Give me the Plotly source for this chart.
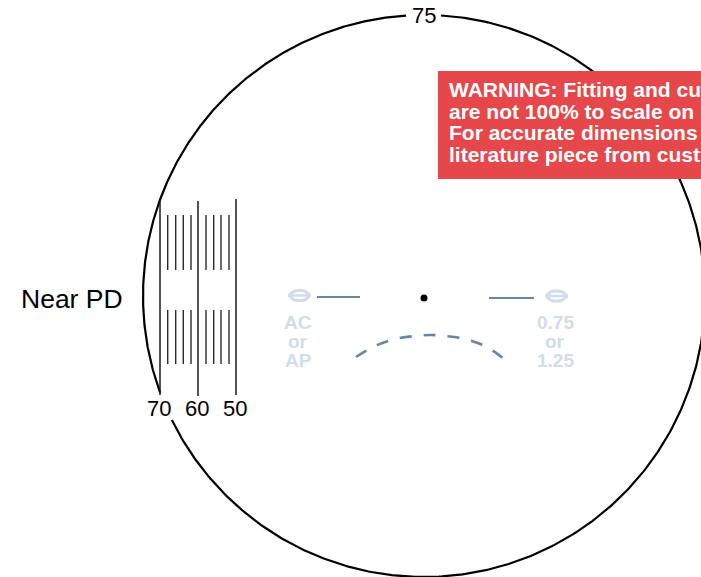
import numpy as np
import plotly.graph_objects as go

# Scale diagram values (chart units equal the reference picture's pixels)
CENTER = (424, 296)
RADIUS = 281
GAP_75 = (406, 441)
PD_LONG_X = [160, 198, 236]
PD_LONG_Y = [[200, 395], [201, 396], [199, 395]]
PD_LABELS = ["70", "60", "50"]
PD_LABEL_X = [159, 197, 235]
PD_SHORT_X = [167.7, 175.7, 183.3, 191, 206, 213.7, 221, 229]
PD_SHORT_SPANS = [(215, 270), (310, 364)]
BLUE_LEFT = ([317, 360], [297, 297])
BLUE_RIGHT = ([489, 534], [298, 298])
DASH_X = [356, 375, 395, 415, 430, 445, 465, 485, 503]
DASH_Y = [357, 346, 339, 336, 335, 336, 339, 346, 358]
LEFT_TEXT = ["AC", "or", "AP"]
RIGHT_TEXT = ["0.75", "or", "1.25"]
TEXT_Y = [322.5, 341.5, 360.5]
WARNING = ["WARNING: Fitting and cut", "are not 100% to scale on",
           "For accurate dimensions", "literature piece from cust"]
WARNING_Y = [89, 111, 132, 154]

BLACK = "#000000"
DARK = "#2a2a2a"
BLUE = "#6388a6"
PALE = "#d2dde8"
RED = "#e6474b"
FONT = "Liberation Sans"

fig = go.Figure()

def line(x, y, color=BLACK, width=2, dash=None, shape=None):
    fig.add_trace(go.Scatter(x=x, y=y, mode="lines", hoverinfo="skip", showlegend=False,
                             line=dict(color=color, width=width, dash=dash, shape=shape or "linear")))

# circle with gaps for the 75 and 70 labels
a1 = np.degrees(np.arctan2(CENTER[1] - 15, GAP_75[0] - CENTER[0]))
a2 = np.degrees(np.arctan2(CENTER[1] - 15, GAP_75[1] - CENTER[0]))
a3 = np.degrees(np.arctan2(CENTER[1] - 393, 160 - CENTER[0])) + 360
a4 = np.degrees(np.arctan2(CENTER[1] - 420, 172 - CENTER[0])) + 360
for s, e in [(a1, a3), (a4, a2 + 360)]:
    t = np.radians(np.linspace(s, e, 400))
    line(CENTER[0] + RADIUS * np.cos(t), CENTER[1] - RADIUS * np.sin(t), BLACK, 2.2)

for x, ys in zip(PD_LONG_X, PD_LONG_Y):
    line([x, x], ys, "#1a1a1a", 1.5)
for x in PD_SHORT_X:
    for y0, y1 in PD_SHORT_SPANS:
        line([x, x], [y0, y1], DARK, 1.4)

line(*BLUE_LEFT, BLUE, 2.2)
line(*BLUE_RIGHT, BLUE, 2.2)
line(DASH_X, DASH_Y, BLUE, 2.6, dash="12px,12px", shape="spline")

fig.add_trace(go.Scatter(x=[424], y=[298], mode="markers", hoverinfo="skip", showlegend=False,
                         marker=dict(color=BLACK, size=7)))

# eye glyphs
for cx, cy in [(299.5, 295.5), (556.5, 296)]:
    line([cx - 10.5, cx - 5, cx, cx + 5, cx + 10.5], [cy, cy - 4.5, cy - 5, cy - 4.5, cy], PALE, 3, shape="spline")
    line([cx - 10.5, cx - 5, cx, cx + 5, cx + 10.5], [cy, cy + 4.5, cy + 5, cy + 4.5, cy], PALE, 3, shape="spline")
    line([cx - 11.5, cx + 11.5], [cy, cy], PALE, 2.5)

shapes = [dict(type="rect", x0=438, x1=720, y0=71, y1=179, fillcolor=RED, line=dict(width=0), layer="above")]

ann = []
def text(x, y, s, size, color=BLACK, bold=False, anchor="center"):
    ann.append(dict(x=x, y=y, text=f"<b>{s}</b>" if bold else s, showarrow=False, xanchor=anchor, yanchor="middle",
                    font=dict(family=FONT, size=size, color=color), align="left"))

text(424, 15, "75", 22)
text(71.5, 299, "Near PD", 26.5)
for x, s in zip(PD_LABEL_X, PD_LABELS):
    text(x, 408, s, 22)
for y, a, b in zip(TEXT_Y, LEFT_TEXT, RIGHT_TEXT):
    text(298, y, a, 19, PALE, True)
    text(555, y, b, 19, PALE, True)
for y, s in zip(WARNING_Y, WARNING):
    text(447, y, s, 21, "#ffffff", True, "left")

fig.update_layout(width=701, height=577, margin=dict(l=0, r=0, t=0, b=0), autosize=False,
                  paper_bgcolor="white", plot_bgcolor="white", shapes=shapes, annotations=ann,
                  xaxis=dict(range=[0, 701], visible=False, fixedrange=True),
                  yaxis=dict(range=[577, 0], visible=False, fixedrange=True))
fig.write_html("out.html", config=dict(displayModeBar=False),
               post_script="document.body.style.margin='0';document.body.style.overflow='hidden';")
